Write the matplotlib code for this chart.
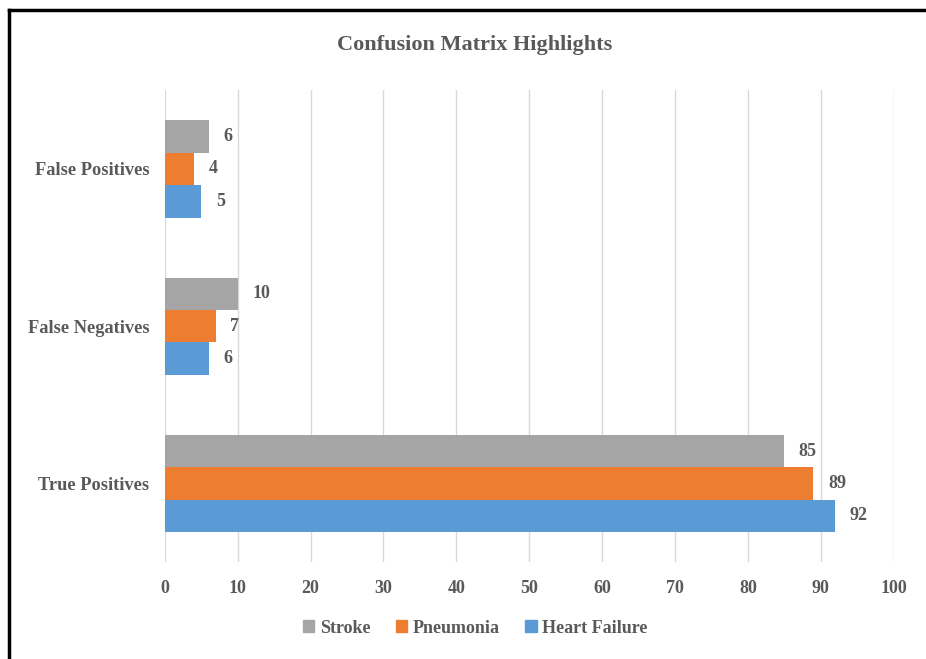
import matplotlib
matplotlib.use("Agg")
import matplotlib.pyplot as plt
from matplotlib.lines import Line2D
import numpy as np

categories = ["True Positives", "False Negatives", "False Positives"]
series_names = ["Heart Failure", "Pneumonia", "Stroke"]
heart_failure = [92, 6, 5]
pneumonia = [89, 7, 4]
stroke = [85, 10, 6]
colors = {"Heart Failure": "#5B9BD5", "Pneumonia": "#ED7D31", "Stroke": "#A5A5A5"}
xticks = [0, 10, 20, 30, 40, 50, 60, 70, 80, 90, 100]

plt.rcParams['font.family'] = ['Liberation Serif', 'DejaVu Serif']
txt = "#595959"

fig = plt.figure(figsize=(9.26, 6.59), dpi=100)
ax = fig.add_axes([0.178, 0.147, 0.787, 0.716])

y = np.arange(len(categories))
h = 0.206
data = {"Heart Failure": heart_failure, "Pneumonia": pneumonia, "Stroke": stroke}
offsets = {"Heart Failure": -h, "Pneumonia": 0.0, "Stroke": h}
for name in series_names:
    vals = data[name]
    ax.barh(y + offsets[name], vals, height=h, color=colors[name], label=name, zorder=3)
    for yy, v in zip(y + offsets[name], vals):
        ax.text(v + 2.0, yy, str(v), va='center', ha='left', fontsize=13,
                fontweight='bold', color=txt)

ax.set_xlim(0, 100)
ax.set_ylim(-0.5, 2.5)
ax.set_xticks(xticks)
ax.set_xticklabels([str(t) for t in xticks], fontsize=13, fontweight='bold', color=txt)
ax.set_yticks(y)
ax.set_yticklabels(categories, fontsize=13.2, fontweight='bold', color=txt)
ax.tick_params(axis='both', length=0, pad=13)
ax.tick_params(axis='y', pad=11)
ax.xaxis.grid(True, color="#D9D9D9", linewidth=1, zorder=0)
for s in ax.spines.values():
    s.set_visible(False)

fig.text(0.513, 0.931, "Confusion Matrix Highlights", ha='center', va='center',
         fontsize=16, fontweight='bold', color=txt)

handles = [plt.Rectangle((0, 0), 1, 1, color=colors[n]) for n in ["Stroke", "Pneumonia", "Heart Failure"]]
fig.legend(handles, ["Stroke", "Pneumonia", "Heart Failure"], loc='center',
           bbox_to_anchor=(0.513, 0.047), ncol=3, frameon=False,
           prop={'size': 13, 'weight': 'bold'}, labelcolor=txt,
           handlelength=0.65, handleheight=0.65, handletextpad=0.3, columnspacing=1.4)

# figure border (left and top visible)
fig.add_artist(Line2D([0.0098, 0.0098], [0.0, 0.985], color='black', linewidth=2.5, transform=fig.transFigure))
fig.add_artist(Line2D([0.0098, 1.0], [0.985, 0.985], color='black', linewidth=2.5, transform=fig.transFigure))

fig.savefig("out.png", dpi=100)
